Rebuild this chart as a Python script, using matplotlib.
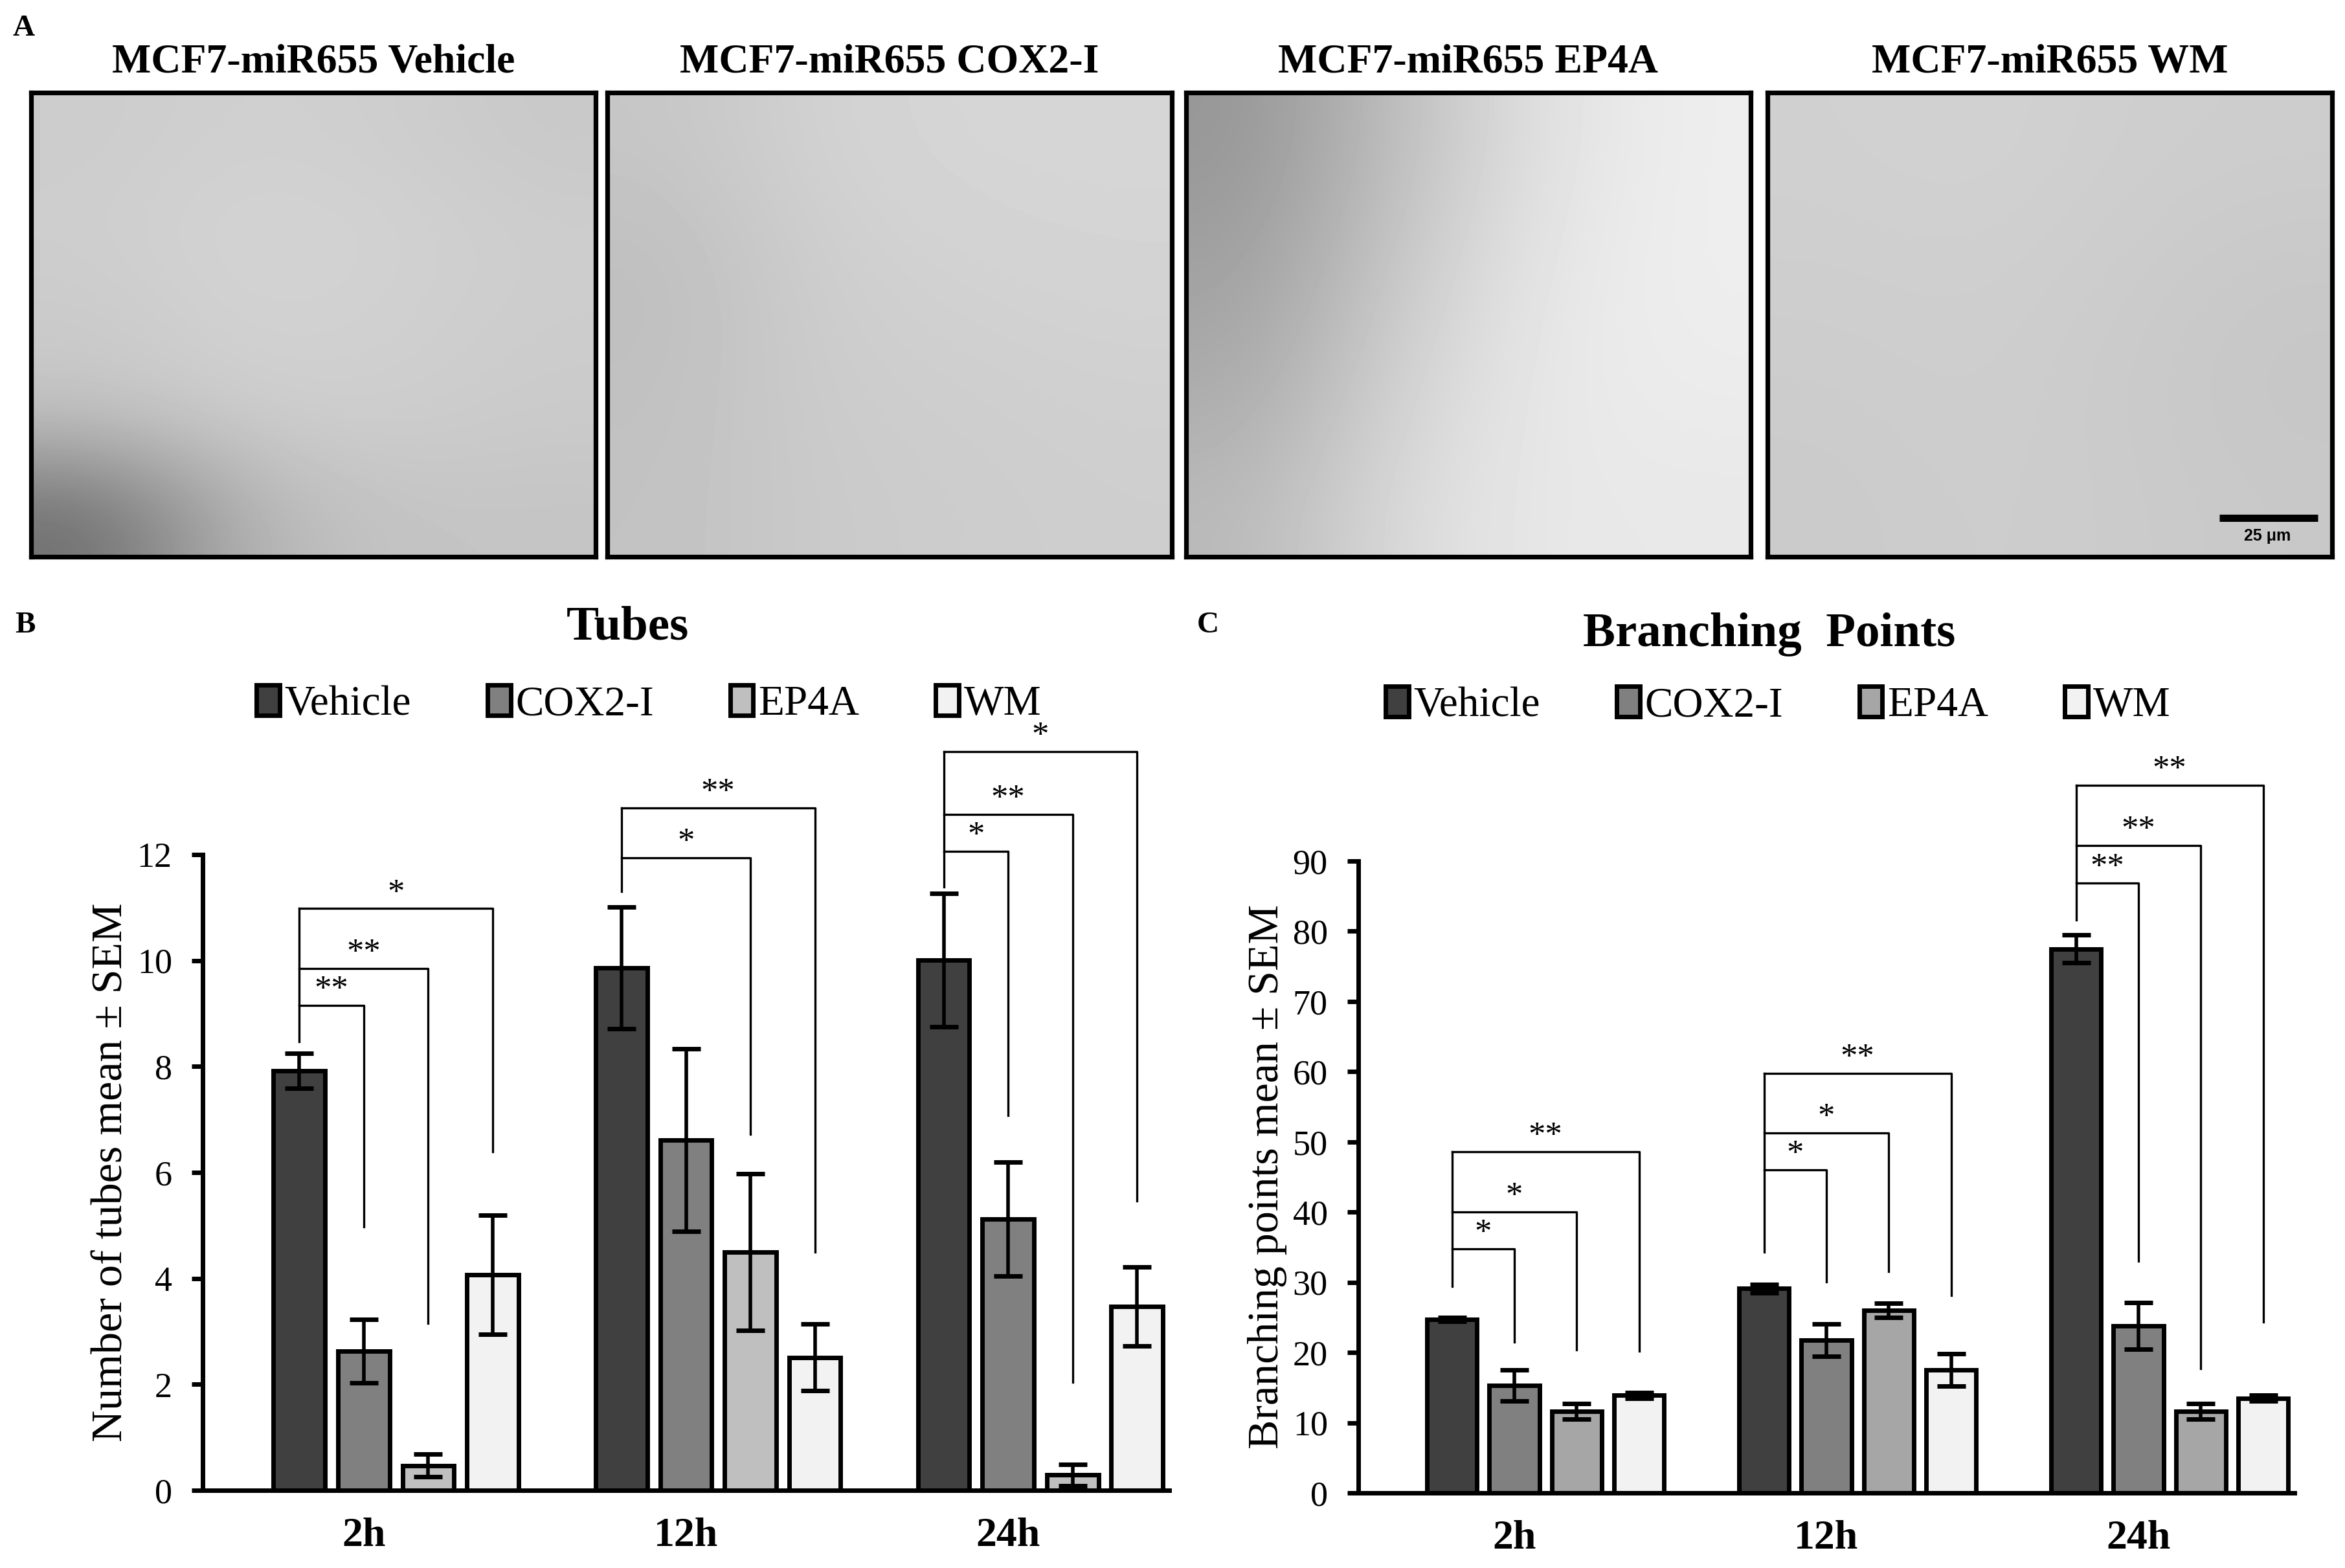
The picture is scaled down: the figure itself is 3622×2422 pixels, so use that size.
import matplotlib.pyplot as plt
import numpy as np
from matplotlib.patches import Patch

plt.rcParams['font.family'] = ['Liberation Serif', 'DejaVu Serif']

groups = ['2h', '12h', '24h']
treatments = ['Vehicle', 'COX2-I', 'EP4A', 'WM']

# Tubes (mean, SEM)
tubes_vehicle = [7.92, 9.86, 10.01]
tubes_cox2 = [2.63, 6.61, 5.12]
tubes_ep4a = [0.47, 4.50, 0.29]
tubes_wm = [4.07, 2.51, 3.47]
tubes_vehicle_sem = [0.33, 1.15, 1.26]
tubes_cox2_sem = [0.60, 1.72, 1.08]
tubes_ep4a_sem = [0.21, 1.48, 0.20]
tubes_wm_sem = [1.12, 0.63, 0.75]

# Branching points (mean, SEM)
branch_vehicle = [24.7, 29.1, 77.5]
branch_cox2 = [15.3, 21.8, 23.8]
branch_ep4a = [11.6, 26.0, 11.6]
branch_wm = [13.9, 17.5, 13.5]
branch_vehicle_sem = [0.3, 0.6, 1.95]
branch_cox2_sem = [2.2, 2.3, 3.3]
branch_ep4a_sem = [1.1, 1.05, 1.1]
branch_wm_sem = [0.4, 2.3, 0.4]

# significance brackets: (group, compared treatment, bracket height, line end, label)
tubes_sig = [(0, 1, 9.15, 4.97, '**'), (0, 2, 9.85, 3.15, '**'), (0, 3, 10.98, 6.39, '*'),
             (1, 2, 11.94, 6.72, '*'), (1, 3, 12.88, 4.50, '**'),
             (2, 1, 12.06, 7.07, '*'), (2, 2, 12.76, 2.04, '**'), (2, 3, 13.94, 5.46, '*')]
tubes_sig_start = [8.47, 11.30, 11.39]
branch_sig = [(0, 1, 34.75, 21.5, '*'), (0, 2, 40.05, 20.4, '*'), (0, 3, 48.6, 20.2, '**'),
              (1, 1, 46.0, 30.1, '*'), (1, 2, 51.3, 31.5, '*'), (1, 3, 59.8, 28.1, '**'),
              (2, 1, 86.9, 33.0, '**'), (2, 2, 92.2, 17.7, '**'), (2, 3, 100.8, 24.3, '**')]
branch_sig_start = [29.4, 34.3, 81.6]

# grey levels of the micrographs (read by eye)
micro_titles = ['MCF7-miR655 Vehicle', 'MCF7-miR655 COX2-I', 'MCF7-miR655 EP4A', 'MCF7-miR655 WM']
micro_shade = [
    [[204, 208, 206, 200], [206, 212, 210, 205], [202, 210, 208, 204], [195, 205, 206, 202],
     [110, 180, 196, 196]],
    [[198, 210, 214, 214], [190, 206, 210, 212], [192, 204, 206, 208], [194, 202, 204, 206]],
    [[150, 190, 225, 238], [160, 200, 230, 238], [170, 210, 232, 236], [185, 218, 232, 232]],
    [[208, 210, 206, 205], [206, 207, 204, 200], [204, 206, 202, 198], [202, 205, 203, 200]],
]

W, H = 3622, 2422
fig = plt.figure(figsize=(W / 200, H / 200), dpi=200)

def rect(x0, y0, x1, y1):
    # pixel box (top-left origin) -> figure fraction
    return [x0 / W, 1 - y1 / H, (x1 - x0) / W, (y1 - y0) / H]

# ---- panel A: micrographs
lefts = [48, 938, 1832, 2730]
for i in range(4):
    ax = fig.add_axes(rect(lefts[i], 143, lefts[i] + 872, 860))
    ax.imshow(np.array(micro_shade[i]), cmap='gray', vmin=0, vmax=255,
              interpolation='bicubic', aspect='auto')
    ax.set_xticks([])
    ax.set_yticks([])
    for s in ax.spines.values():
        s.set_linewidth(2.6)
    fig.text((lefts[i] + 436) / W, 1 - 97 / H, micro_titles[i], ha='center', va='center',
             fontsize=23, fontweight='bold')
    if i == 3:
        ax.plot([0.80, 0.975], [0.084, 0.084], transform=ax.transAxes, color='black', lw=4,
                solid_capstyle='butt')
        ax.text(0.885, 0.045, '25 μm', transform=ax.transAxes, ha='center', va='center',
                fontsize=9, fontweight='bold', family=['Liberation Sans', 'DejaVu Sans'])

fig.text(37 / W, 1 - 44 / H, 'A', fontsize=17, fontweight='bold', ha='center', va='center')
fig.text(39 / W, 1 - 966 / H, 'B', fontsize=17, fontweight='bold', ha='center', va='center')
fig.text(1866 / W, 1 - 966 / H, 'C', fontsize=17, fontweight='bold', ha='center', va='center')


def bar_panel(box, means, sems, colors, ymax, ystep, ylabel, sig, sig_start, label_x,
              star_off, title, title_xy, legend_xy):
    ax = fig.add_axes(rect(*box))
    x = np.arange(len(groups))
    offsets = [-0.2, 0.0, 0.2, 0.4]
    for i in range(4):
        ax.bar(x + offsets[i], means[i], width=0.16, color=colors[i], edgecolor='black',
               linewidth=2.5, zorder=2)
        ax.errorbar(x + offsets[i], means[i], yerr=sems[i], fmt='none', ecolor='black',
                    elinewidth=2, capsize=8, capthick=2.5, zorder=3)
    for g in range(len(groups)):
        xv = g + offsets[0]
        top = max(s[2] for s in sig if s[0] == g)
        ax.plot([xv, xv], [sig_start[g], top], color='black', lw=1.2, clip_on=False)
    for g, t, lvl, end, lab in sig:
        xv = g + offsets[0]
        xt = g + offsets[t]
        ax.plot([xv, xt, xt], [lvl, lvl, end], color='black', lw=1.2, clip_on=False)
        ax.text((xv + xt) / 2, lvl + star_off, lab, ha='center', va='baseline', fontsize=19,
                clip_on=False)
    ax.set_xlim(-0.5, 2.5)
    ax.set_ylim(0, ymax)
    ax.set_yticks(np.arange(0, ymax + 0.1, ystep))
    ax.set_xticks(x)
    ax.set_xticklabels(groups, fontsize=23, fontweight='bold')
    ax.tick_params(axis='x', length=0, pad=15)
    ax.tick_params(axis='y', length=6, width=2.5, direction='out', pad=11, labelsize=19.5)
    for s in ['top', 'right']:
        ax.spines[s].set_visible(False)
    for s in ['left', 'bottom']:
        ax.spines[s].set_linewidth(2.5)
    ax.set_ylabel(ylabel, fontsize=24.5)
    ax.yaxis.set_label_coords(label_x, 0.5)
    fig.text(title_xy[0] / W, 1 - title_xy[1] / H, title, ha='center', va='center',
             fontsize=27, fontweight='bold')
    handles = [Patch(facecolor=colors[i], edgecolor='black', linewidth=2.5, label=treatments[i])
               for i in range(4)]
    fig.legend(handles=handles, loc='center', ncol=4, frameon=False, fontsize=23.5,
               bbox_to_anchor=(legend_xy[0] / W, 1 - legend_xy[1] / H),
               handlelength=0.55, handleheight=0.75, handletextpad=0.12, columnspacing=1.8)
    return ax


bar_panel((313, 1320, 1806, 2302),
          [tubes_vehicle, tubes_cox2, tubes_ep4a, tubes_wm],
          [tubes_vehicle_sem, tubes_cox2_sem, tubes_ep4a_sem, tubes_wm_sem],
          ['#404040', '#808080', '#bfbfbf', '#f2f2f2'], 12, 2,
          'Number of tubes mean ± SEM', tubes_sig, tubes_sig_start, -0.074, 0.12,
          'Tubes', (969, 970), (1002, 1088))

bar_panel((2098, 1330, 3544, 2306),
          [branch_vehicle, branch_cox2, branch_ep4a, branch_wm],
          [branch_vehicle_sem, branch_cox2_sem, branch_ep4a_sem, branch_wm_sem],
          ['#404040', '#808080', '#a6a6a6', '#f2f2f2'], 90, 10,
          'Branching points mean ± SEM', branch_sig, branch_sig_start, -0.076, 0.9,
          'Branching  Points', (2733, 980), (2746, 1090))

plt.savefig('out.png', dpi=200)
